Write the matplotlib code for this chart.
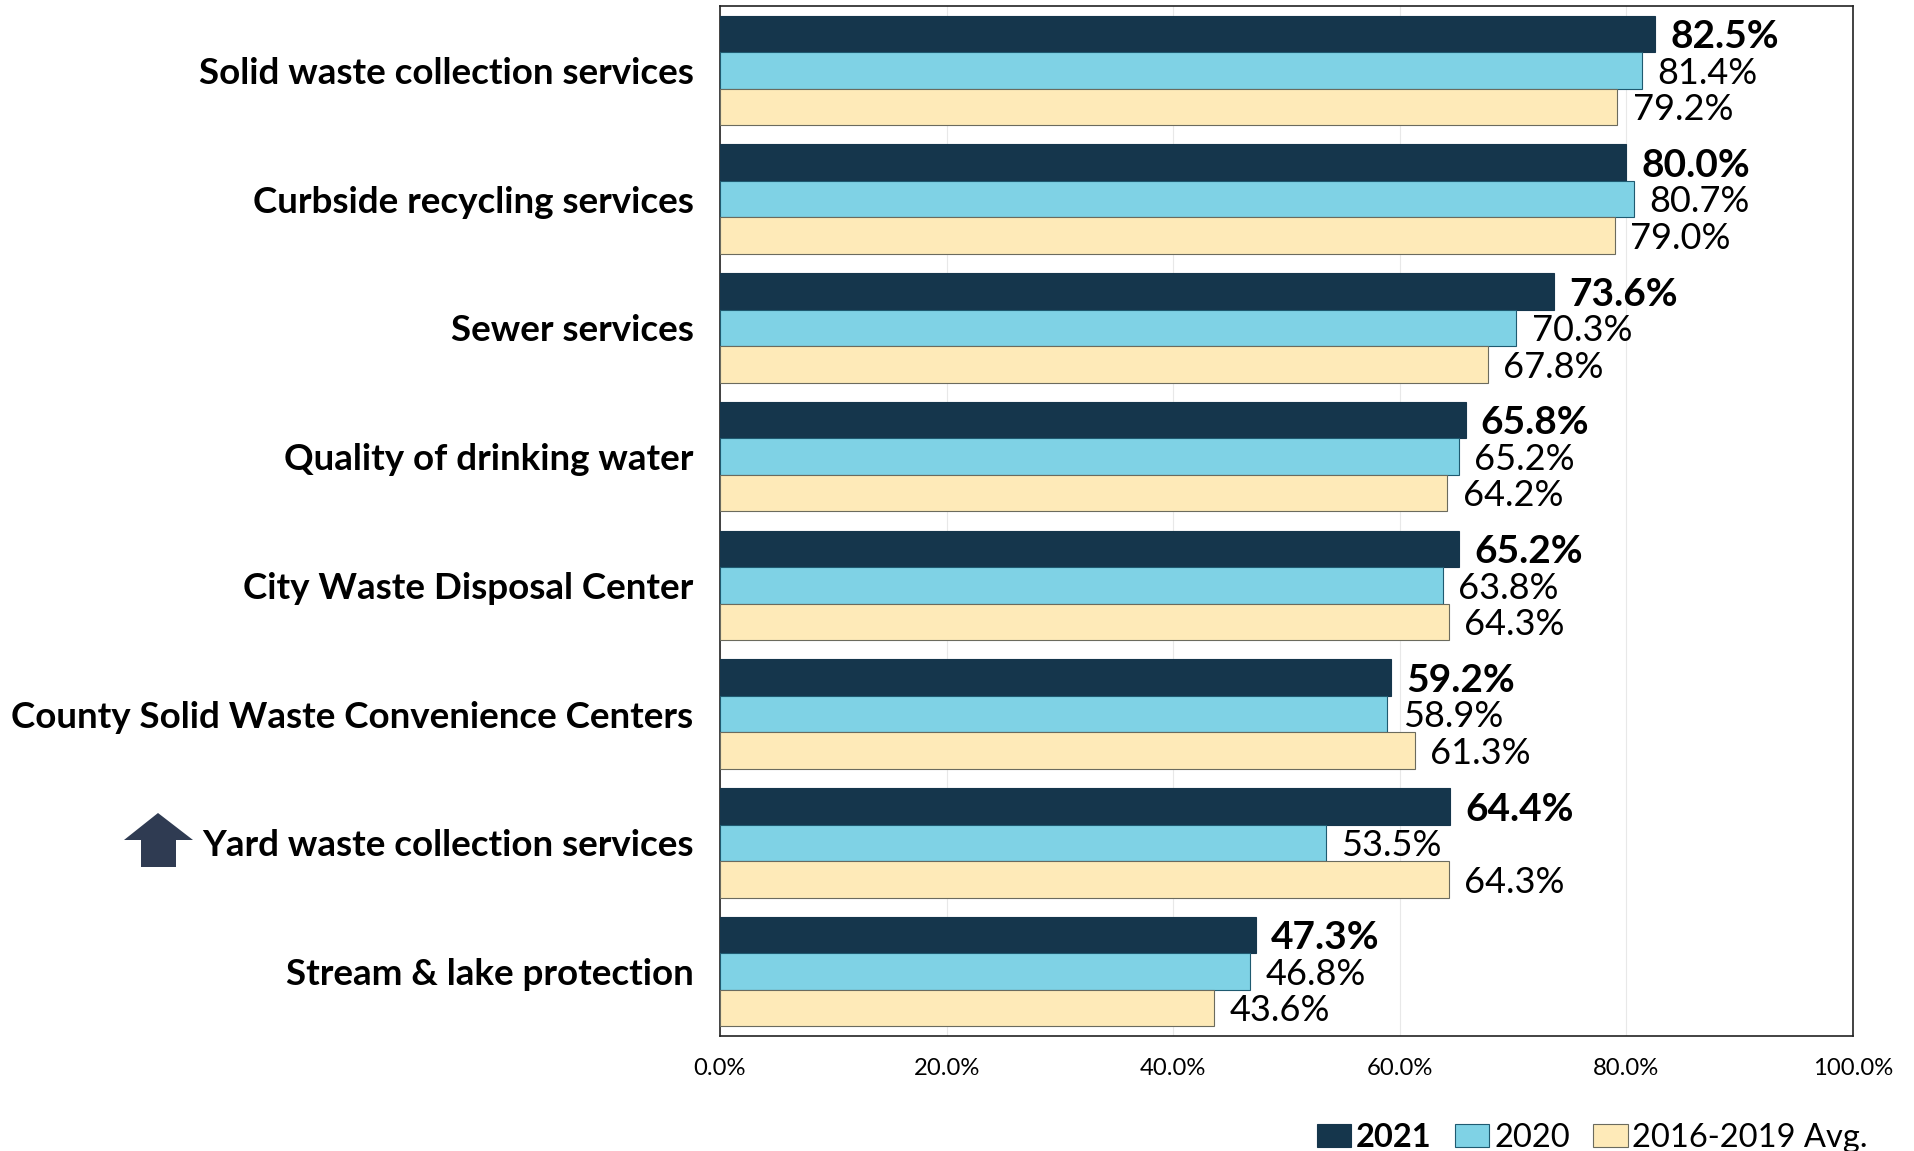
import numpy as np
from matplotlib import pyplot as plt
from matplotlib.patches import Polygon

plt.rcParams["font.family"] = ["Lato", "DejaVu Sans"]

categories = [
    "Solid waste collection services",
    "Curbside recycling services",
    "Sewer services",
    "Quality of drinking water",
    "City Waste Disposal Center",
    "County Solid Waste Convenience Centers",
    "Yard waste collection services",
    "Stream & lake protection",
]
values_2021 = [82.5, 80.0, 73.6, 65.8, 65.2, 59.2, 64.4, 47.3]
values_2020 = [81.4, 80.7, 70.3, 65.2, 63.8, 58.9, 53.5, 46.8]
values_avg = [79.2, 79.0, 67.8, 64.2, 64.3, 61.3, 64.3, 43.6]
x_ticks = [0, 20, 40, 60, 80, 100]
series_names = ["2021", "2020", "2016-2019 Avg."]

W, H = 1914, 1151
fig = plt.figure(figsize=(W / 100, H / 100), dpi=100)
ax = fig.add_axes([720 / W, 1 - 1036 / H, (1853 - 720) / W, (1036 - 6) / H])

y = np.arange(len(categories))
bar_h = 0.284
colors = ["#15364C", "#7FD2E5", "#FEEAB8"]
edges = ["#15364C", "#1F5A70", "#6B6B5E"]
all_values = [values_2021, values_2020, values_avg]

for i, vals in enumerate(all_values):
    offset = (i - 1) * bar_h
    ax.barh(y + offset, vals, height=bar_h, color=colors[i], edgecolor=edges[i],
            linewidth=0.8, label=series_names[i], zorder=3)
    for yy, v in zip(y + offset, vals):
        ax.annotate(f"{v:.1f}%", (v, yy), xytext=(11, -2), textcoords="offset points",
                    ha="left", va="center", fontsize=28 if i == 0 else 26,
                    fontweight="bold" if i == 0 else "normal", color="black", zorder=4)

ax.set_xlim(0, 100)
ax.set_ylim(len(categories) - 0.5, -0.5)
ax.set_xticks(x_ticks)
ax.set_xticklabels([f"{t:.1f}%" for t in x_ticks], fontsize=17.2)
ax.set_yticks(y)
ax.set_yticklabels(categories, fontsize=26.5, fontweight="bold")
ax.tick_params(axis="both", length=0)
ax.tick_params(axis="x", pad=16)
ax.tick_params(axis="y", pad=19)
ax.grid(axis="x", color="#E8E8E8", linewidth=0.8, zorder=0)
ax.set_axisbelow(True)
for s in ax.spines.values():
    s.set_linewidth(1.2)
    s.set_color("#222222")

# up arrow next to the yard waste label
arrow_px = [(158, 813), (193, 840), (176, 840), (176, 867), (141, 867), (141, 840), (124, 840)]
fig.add_artist(Polygon([(px / W, 1 - py / H) for px, py in arrow_px], closed=True,
                       transform=fig.transFigure, facecolor="#2F3B52", edgecolor="none"))

leg = fig.legend(loc="lower right", bbox_to_anchor=(1868 / W, -2 / H), ncol=3, frameon=False,
                 fontsize=23.5, handlelength=1.05, handleheight=0.7, handletextpad=0.15,
                 columnspacing=0.72, borderpad=0, borderaxespad=0)
leg.get_texts()[0].set_fontweight("bold")

fig.savefig("out.png", dpi=100, facecolor="white")
